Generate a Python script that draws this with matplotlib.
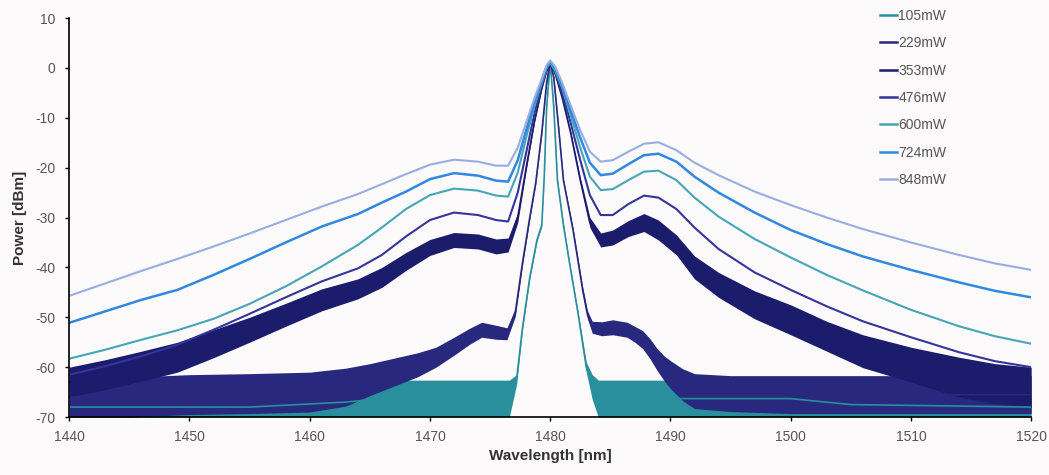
import matplotlib
matplotlib.use('Agg')
import matplotlib.pyplot as plt
from matplotlib.lines import Line2D

plt.rcParams['font.family'] = ['Liberation Sans', 'DejaVu Sans']
plt.rcParams['axes.unicode_minus'] = False

# series labels and colours (legend order)
labels = ['105mW', '229mW', '353mW', '476mW', '600mW', '724mW', '848mW']
colors = ['#2a8f9c', '#28287e', '#1c1c6c', '#34349a', '#46a6b6', '#3288de', '#98ade0']

# shared wavelength grid for the broad spectra (nm)
x_broad = [1440, 1443, 1446, 1449, 1452, 1455, 1458, 1461, 1464, 1466, 1468, 1470,
           1472, 1474, 1475.5, 1476.5, 1477.3, 1478, 1478.7, 1479.3, 1479.7, 1480,
           1480.4, 1481, 1481.7, 1482.5, 1483.3, 1484.2, 1485.2, 1486.5, 1487.8, 1489,
           1490.5, 1492, 1494, 1497, 1500, 1503, 1506, 1510, 1514, 1517, 1520]

p848 = [-45.7, -43.2, -40.7, -38.3, -35.8, -33.2, -30.5, -27.8, -25.3, -23.3, -21.3, -19.4,
        -18.4, -18.8, -19.6, -19.6, -16, -11, -6, -2.2, 0.5, 1.5,
        0.3, -3, -7.5, -12.5, -16.8, -18.8, -18.5, -16.8, -15.2, -14.9,
        -16.5, -19, -21.5, -24.8, -27.5, -30, -32.3, -35, -37.5, -39.2, -40.5]
p724 = [-51.1, -48.8, -46.5, -44.5, -41.5, -38.3, -35, -31.8, -29.3, -27, -24.8, -22.3,
        -21.1, -21.6, -22.6, -22.8, -18.5, -12.5, -6.8, -2.5, 0.3, 1.3,
        0, -3.5, -8.5, -14, -19, -21.5, -21.2, -19.3, -17.5, -17.2,
        -18.8, -21.8, -25, -29, -32.5, -35.3, -37.8, -40.5, -43, -44.7, -46]
p600 = [-58.3, -56.5, -54.5, -52.6, -50.3, -47.3, -43.8, -39.8, -35.5, -32, -28.3, -25.5,
        -24.2, -24.6, -25.6, -25.8, -21, -14, -7.5, -3, 0, 1,
        -0.5, -4, -9.5, -16, -21.8, -24.5, -24.3, -22.5, -20.8, -20.6,
        -22.5, -26, -29.8, -34.3, -38, -41.5, -44.6, -48.5, -51.8, -53.8, -55.3]
p476 = [-61.5, -59.8, -57.8, -55.5, -52.5, -49.3, -46, -42.8, -40.2, -37.5, -33.8, -30.5,
        -29, -29.5, -30.5, -30.8, -25, -17, -9, -3.5, -0.3, 1,
        -0.8, -5, -11, -18.5, -25.5, -29.5, -29.5, -27.3, -25.6, -26,
        -28.3, -32, -36.3, -41, -44.5, -47.8, -50.8, -54, -57, -58.8, -60]
p353 = [-63, -61.5, -59.8, -58, -55.3, -52.5, -49.5, -46.5, -44.3, -42, -38.8, -36,
        -34.5, -34.8, -35.8, -35.5, -30, -20, -10.5, -4, -0.5, 1,
        -1, -6, -13, -22.5, -31, -34.5, -34, -32.2, -31, -32.5,
        -35.5, -40, -43.5, -47.5, -50.5, -53.8, -56.8, -59.5, -62, -63.3, -64]
# noise half-width of the 353mW trace (dB)
n353 = [3, 3, 3, 3, 2.8, 2.5, 2.3, 2.2, 2, 2, 1.8, 1.6,
        1.5, 1.5, 1.5, 1.4, 1, 0.6, 0.4, 0.3, 0.3, 0.3,
        0.3, 0.3, 0.4, 0.6, 1, 1.4, 1.5, 1.6, 1.8, 2,
        2, 2.3, 2.5, 2.8, 3, 3, 3.3, 3.5, 4, 4, 4]

x229 = [1440, 1445, 1450, 1455, 1460, 1463, 1465, 1467, 1469, 1470.5, 1472, 1473.3,
        1474.3, 1475.5, 1476.4, 1477.1, 1477.7, 1478.3, 1478.8, 1479.3, 1479.7, 1480,
        1480.3, 1480.7, 1481.1, 1481.5, 1481.9, 1482.3, 1482.7, 1483.1, 1483.5, 1484.3,
        1485.2, 1486.4, 1487.1, 1487.7, 1488.3, 1488.9, 1489.5, 1490, 1491, 1492,
        1495, 1500, 1510, 1520]
p229 = [-66, -66, -65.5, -65.3, -65, -64, -62.5, -61, -59.5, -58, -55.8, -53.8,
        -52.5, -53, -53.3, -49, -39, -30, -23, -13, -3, 1.2,
        -2, -12, -22.5, -27.5, -32.5, -38.5, -44.5, -49.5, -52, -52.3,
        -52, -52.5, -53.5, -54.5, -56.3, -58.5, -60.3, -61.5, -63.5, -64.8,
        -65.3, -65.5, -65.5, -65.5]
n229 = [4, 4, 4, 4, 4, 3.8, 3.2, 2.8, 2.4, 2, 1.8, 1.6,
        1.5, 1.4, 1.2, 0.8, 0.5, 0.4, 0.3, 0.3, 0.3, 0.3,
        0.3, 0.3, 0.3, 0.3, 0.4, 0.5, 0.6, 0.8, 1.2, 1.4,
        1.5, 1.5, 1.6, 1.8, 2, 2.2, 2.5, 2.8, 3.2, 3.5,
        3.6, 3.8, 3.8, 3.8]

x105 = [1440, 1455, 1463, 1466, 1476.6, 1477.2, 1477.7, 1478.3, 1478.9, 1479.3, 1479.5,
        1479.7, 1480, 1480.3, 1480.6, 1481.1, 1481.6, 1482.3, 1483, 1483.5, 1484,
        1500, 1505, 1520]
p105 = [-68, -68, -67, -66.3, -66.3, -62.5, -52, -42, -34.5, -31.5, -22,
        -8, 1.2, -8, -22.5, -31.5, -39, -49, -60, -64, -66.3,
        -66.3, -67.5, -68]
n105 = [2, 2, 3, 3.7, 3.7, 1, 0.5, 0.4, 0.3, 0.3, 0.3,
        0.3, 0.3, 0.3, 0.3, 0.3, 0.3, 0.4, 1, 2.5, 3.7,
        3.7, 2.5, 2]

xticks = [1440, 1450, 1460, 1470, 1480, 1490, 1500, 1510, 1520]
yticks = [10, 0, -10, -20, -30, -40, -50, -60, -70]

bg = '#fcfafa'
fig = plt.figure(figsize=(10.49, 4.75), dpi=100, facecolor=bg)
ax = fig.add_axes([0.066, 0.122, 0.917, 0.84], facecolor=bg)

# noisy traces: band + centre line
def noisy(x, y, n, c):
    lo = [a - b for a, b in zip(y, n)]
    hi = [a + b for a, b in zip(y, n)]
    ax.fill_between(x, lo, hi, color=c, lw=0)
    ax.plot(x, y, color=c, lw=1.2)

noisy(x105, p105, n105, colors[0])
noisy(x229, p229, n229, colors[1])
noisy(x_broad, p353, n353, colors[2])
ax.plot(x_broad, p476, color=colors[3], lw=1.5)
ax.plot(x_broad, p600, color=colors[4], lw=1.5)
ax.plot(x_broad, p724, color=colors[5], lw=1.8)
ax.plot(x_broad, p848, color=colors[6], lw=1.5)

ax.set_xlim(1440, 1520)
ax.set_ylim(-70, 10)
ax.set_xticks(xticks)
ax.set_yticks(yticks)
for s in ['top', 'right']:
    ax.spines[s].set_visible(False)
for s in ['left', 'bottom']:
    ax.spines[s].set_color('black')
    ax.spines[s].set_linewidth(1.2)
ax.tick_params(direction='out', length=3, width=1, colors='black', labelcolor='#555555',
               labelsize=10)
ax.tick_params(axis='x', pad=6)
ax.tick_params(axis='y', pad=7)
ax.set_xlabel('Wavelength [nm]', fontsize=11, fontweight='bold', color='#333333', labelpad=4)
ax.set_ylabel('Power [dBm]', fontsize=11, fontweight='bold', color='#333333', labelpad=6)

handles = [Line2D([0], [0], color=c, lw=1.8) for c in colors]
leg = fig.legend(handles, labels, loc='upper left', bbox_to_anchor=(0.827, 1.0075),
                 frameon=False, fontsize=10, handlelength=1.22, handletextpad=0.1,
                 labelspacing=0.96)
for t in leg.get_texts():
    t.set_color('#555555')

fig.savefig('out.png', dpi=100, facecolor=bg)
